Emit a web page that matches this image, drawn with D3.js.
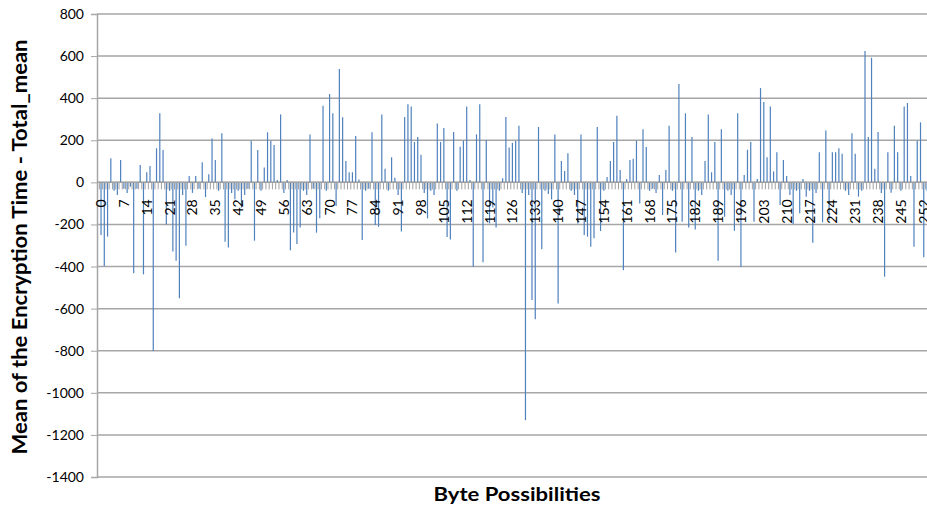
<!DOCTYPE html>
<html>
<head>
<meta charset="utf-8">
<script src="https://cdn.jsdelivr.net/npm/d3@7"></script>
<style>
  body { margin: 0; background: #fff; overflow: hidden; }
  svg { display: block; }
</style>
</head>
<body>
<svg id="chart"></svg>
<script>
// Byte values 0..255 (categories)
const bytes = d3.range(256);
// Mean of encryption time minus total mean, one value per byte
const meanDiff = [
  -250, -398, -258, 114, -40, -60, 106, -30, -50, -20,
  -432, -30, 82, -437, 48, 78, -801, 162, 328, 154,
  -200, -40, -329, -372, -551, -60, -301, 30, -50, 30,
  -30, 95, -70, 38, 209, 106, -40, 233, -282, -310,
  -50, -80, -40, -120, -60, -30, 198, -277, 154, -40,
  71, 238, 198, 177, 11, 323, -50, 11, -323, -238,
  -293, -214, -40, -60, 228, -30, -239, -171, 364, -40,
  420, 328, -112, 539, 309, 101, 48, 48, 220, 14,
  -274, -40, -30, 238, -203, -211, 323, 65, -40, 119,
  22, -60, -234, 310, 371, 360, 192, 215, 131, -50,
  -171, -40, -60, 280, 192, 258, -260, -271, 239, -40,
  169, 198, 360, 11, -401, 228, 371, -380, 201, -195,
  -120, -214, -40, 19, 310, 166, 188, 196, 269, -50,
  -1130, -60, -559, -650, 263, -318, -40, -55, -81, 227,
  -575, 101, 54, 138, -40, -60, -195, 228, -250, -258,
  -306, -266, 263, -231, -40, 25, 101, 192, 317, 59,
  -417, 16, 106, 112, 198, -100, 252, 168, -40, -30,
  -50, 35, -155, 59, 269, -40, -333, 467, -187, 328,
  -214, 215, -224, -40, -60, 101, 323, 48, 192, -372,
  252, -163, -40, -60, -230, 328, -401, 35, 155, 192,
  -187, 16, 448, 382, 119, 360, 52, 143, -108, 106,
  30, -60, -198, -40, -147, 16, -68, -40, -287, -50,
  143, -190, 246, -179, 143, 143, 162, 136, -40, -60,
  233, 136, -68, -40, 624, 215, 592, 65, 239, -50,
  -448, 143, -49, 269, 143, -40, 360, 377, 30, -306,
  198, 285, -356, -40, -60, -30
];
// Y axis ticks
const yTicks = d3.range(-1400, 801, 200);
// every 7th byte is labelled
const xTickLabels = bytes.filter(d => d % 7 === 0);

const yTitle = 'Mean of the Encryption Time - Total_mean';
const xTitle = 'Byte Possibilities';

const width = 927;
const height = 511;
const font = 'Lato, "Open Sans", sans-serif';

const svg = d3.select('#chart')
  .attr('width', width)
  .attr('height', height);

const x = d3.scaleBand()
  .domain(bytes)
  .range([99.4, 935.2]);

const y = d3.scaleLinear()
  .domain([-1400, 800])
  .range([477, 14]);

// horizontal gridlines
svg.append('g')
  .selectAll('line')
  .data(yTicks)
  .enter()
  .append('line')
  .attr('x1', 97)
  .attr('x2', 940)
  .attr('y1', d => y(d))
  .attr('y2', d => y(d))
  .style('stroke', '#a6a6a6')
  .style('stroke-width', 1.5);

// y axis
const yAxis = svg.append('g')
  .attr('transform', 'translate(97,0)')
  .call(d3.axisLeft(y).tickValues(yTicks).tickFormat(d => String(d)).tickSize(6).tickPadding(7));
yAxis.select('.domain').style('stroke', '#a6a6a6').style('stroke-width', 1.5);
yAxis.selectAll('.tick line').style('stroke', '#a6a6a6');
yAxis.selectAll('.tick text')
  .style('font-family', font)
  .style('font-size', '14px')
  .style('fill', '#000');

// category tick marks under the zero line
svg.append('g')
  .selectAll('line')
  .data(bytes)
  .enter()
  .append('line')
  .attr('x1', d => x(d))
  .attr('x2', d => x(d))
  .attr('y1', y(0))
  .attr('y2', y(0) + 7)
  .style('stroke', '#a0a0a0')
  .style('stroke-width', 1);

// bars
svg.append('g')
  .selectAll('line')
  .data(bytes)
  .enter()
  .append('line')
  .attr('x1', d => x(d) + x.bandwidth() / 2)
  .attr('x2', d => x(d) + x.bandwidth() / 2)
  .attr('y1', y(0))
  .attr('y2', d => y(meanDiff[d]))
  .style('stroke', '#4f81bd')
  .style('stroke-width', 1.2);

// zero line
svg.append('line')
  .attr('x1', 97)
  .attr('x2', 940)
  .attr('y1', y(0))
  .attr('y2', y(0))
  .style('stroke', '#a0a0a0')
  .style('stroke-width', 1.2);

// x tick labels, rotated (the last one runs off the right edge, as in the original)
svg.append('g')
  .selectAll('text')
  .data(xTickLabels)
  .enter()
  .append('text')
  .attr('transform', d => `translate(${x(d) + x.bandwidth() / 2 + 5},${y(0) + 17}) rotate(-90)`)
  .attr('text-anchor', 'end')
  .style('font-family', font)
  .style('font-size', '14px')
  .text(d => d);

// axis titles
svg.append('text')
  .attr('transform', 'translate(27,247) rotate(-90)')
  .attr('text-anchor', 'middle')
  .attr('textLength', 415)
  .attr('lengthAdjust', 'spacingAndGlyphs')
  .style('font-family', font)
  .style('font-weight', 'bold')
  .style('font-size', '20px')
  .text(yTitle);

svg.append('text')
  .attr('x', 517)
  .attr('y', 501)
  .attr('text-anchor', 'middle')
  .attr('textLength', 167)
  .attr('lengthAdjust', 'spacingAndGlyphs')
  .style('font-family', font)
  .style('font-weight', 'bold')
  .style('font-size', '19px')
  .text(xTitle);
</script>
</body>
</html>
